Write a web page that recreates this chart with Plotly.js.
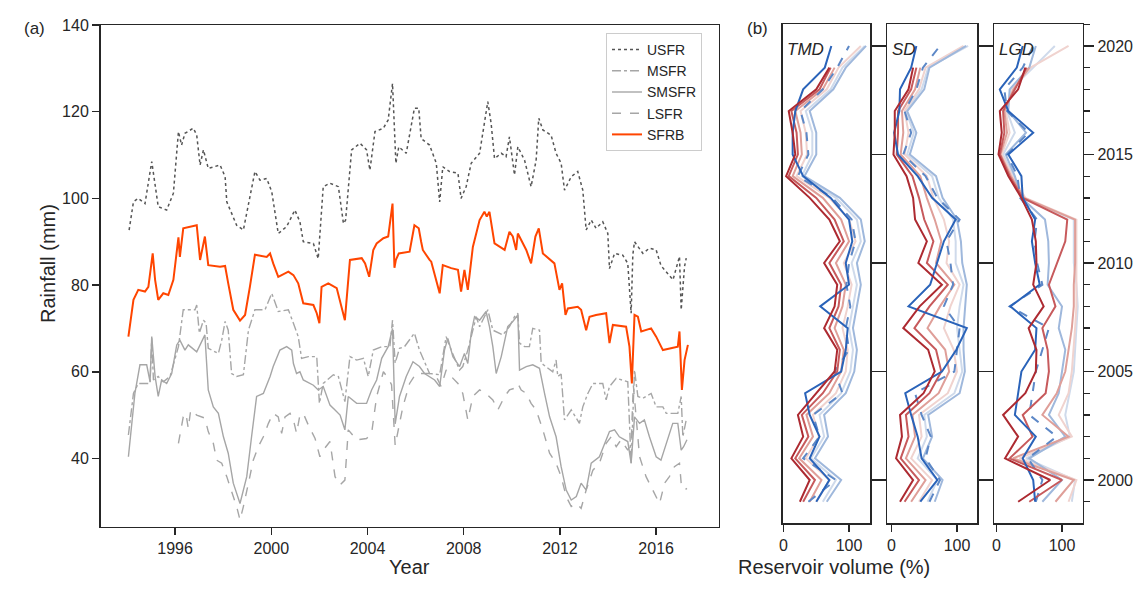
<!DOCTYPE html>
<html>
<head>
<meta charset="utf-8">
<script src="https://cdn.plot.ly/plotly-3.0.1.min.js"></script>
<style>html,body{margin:0;padding:0;background:#fff;}#chart{width:1147px;height:592px;}</style>
</head>
<body>
<div id="chart"></div>
<script>
// ---------- Panel (a): rainfall series ----------
const usfrX = [1994.09,1994.27,1994.47,1994.75,1995.03,1995.17,1995.30,1995.65,1995.93,1996.14,1996.27,1996.41,1996.76,1996.90,1997.04,1997.18,1997.38,1997.87,1998.08,1998.15,1998.56,1998.84,1999.32,1999.53,1999.81,2000.02,2000.29,2000.64,2000.98,2001.19,2001.33,2001.75,2001.95,2002.16,2002.44,2002.79,2003.00,2003.09,2003.34,2003.69,2003.96,2004.10,2004.31,2004.66,2004.86,2005.04,2005.18,2005.30,2005.61,2005.95,2006.13,2006.23,2006.58,2006.86,2007.00,2007.13,2007.41,2007.76,2007.89,2008.10,2008.31,2008.66,2008.86,2009.00,2009.14,2009.28,2009.56,2009.76,2009.90,2010.11,2010.25,2010.53,2010.80,2011.01,2011.12,2011.29,2011.63,2011.84,2012.05,2012.19,2012.47,2012.74,2012.95,2013.09,2013.30,2013.50,2013.78,2013.99,2014.06,2014.27,2014.61,2014.82,2014.96,2015.03,2015.10,2015.24,2015.45,2015.72,2016.00,2016.20,2016.70,2016.97,2017.04,2017.18,2017.25];
const usfrY = [92.7,99.2,100.0,98.8,108.5,103.5,98.1,97.3,101.2,115.4,112.3,115.0,116.2,114.6,107.7,111.2,106.9,107.7,105.0,99.2,93.8,92.7,106.2,104.2,104.6,101.5,91.9,93.5,97.3,94.6,90.0,89.6,86.1,102.7,103.5,102.7,94.2,95.0,111.2,112.7,111.2,106.5,115.4,116.2,118.1,126.5,108.1,111.9,110.4,120.8,120.8,113.8,112.3,108.1,99.2,107.3,106.2,105.8,100.0,102.7,108.1,110.4,118.1,122.3,117.3,109.2,110.4,109.6,114.2,105.4,111.9,108.8,102.7,108.8,118.5,115.8,114.6,110.4,108.1,101.9,105.0,106.2,101.9,92.7,95.0,93.1,94.6,91.9,83.8,87.3,86.9,85.0,73.5,87.0,90.0,88.8,87.3,88.5,88.1,84.5,81.2,86.6,74.3,84.3,86.2];

const msfrX = [1994.06,1994.27,1994.47,1994.75,1994.96,1995.03,1995.10,1995.30,1995.51,1995.79,1995.93,1996.14,1996.34,1996.83,1996.90,1997.01,1997.18,1997.29,1997.38,1997.80,1997.94,1998.08,1998.21,1998.35,1998.56,1998.84,1999.05,1999.32,1999.74,2000.02,2000.29,2000.71,2000.92,2001.12,2001.26,2001.54,2001.89,2002.00,2002.16,2002.58,2002.79,2003.06,2003.27,2003.55,2003.83,2004.03,2004.24,2004.59,2004.93,2005.04,2005.15,2005.33,2005.54,2005.95,2006.16,2006.58,2007.00,2007.27,2007.48,2007.83,2007.96,2008.17,2008.38,2008.52,2008.66,2009.00,2009.21,2009.63,2009.90,2010.11,2010.25,2010.32,2010.53,2010.73,2010.87,2011.15,2011.22,2011.70,2011.84,2011.91,2012.05,2012.19,2012.47,2012.81,2012.95,2013.16,2013.37,2013.78,2013.92,2014.06,2014.34,2014.82,2014.96,2015.10,2015.24,2015.45,2015.79,2016.00,2016.28,2016.42,2016.90,2017.04,2017.11,2017.25];
const msfrY = [45.4,55.0,57.3,57.3,57.3,67.7,58.1,58.9,57.7,58.9,61.6,65.8,74.3,74.3,75.4,68.9,71.9,71.2,65.4,64.2,67.3,71.6,69.6,59.6,58.9,59.3,69.6,74.3,74.3,78.1,73.9,74.3,71.2,68.1,63.1,63.5,63.5,52.7,57.3,59.3,58.9,53.1,63.5,62.7,63.1,58.9,65.0,65.8,65.8,71.9,62.0,65.4,65.8,68.9,65.0,59.6,59.3,68.1,65.0,60.4,61.2,65.0,69.6,72.7,70.4,74.3,69.6,68.5,70.4,72.7,73.5,66.6,65.8,65.8,70.0,69.6,62.0,60.0,62.7,58.9,59.5,48.9,51.2,48.1,51.9,55.0,57.3,57.3,53.5,56.6,58.5,57.7,38.9,60.4,54.3,53.9,55.0,51.9,51.9,50.4,50.4,54.3,45.0,48.9];

const smsfrX = [1994.06,1994.33,1994.54,1994.82,1994.96,1995.03,1995.17,1995.30,1995.44,1995.65,1995.86,1996.07,1996.20,1996.41,1996.55,1996.90,1997.04,1997.24,1997.38,1997.59,1997.80,1998.01,1998.21,1998.42,1998.70,1998.98,1999.18,1999.39,1999.67,1999.95,2000.08,2000.36,2000.64,2000.85,2000.92,2001.05,2001.19,2001.33,2001.75,2001.95,2002.16,2002.44,2002.65,2002.86,2003.06,2003.20,2003.55,2003.96,2004.17,2004.38,2004.59,2004.86,2005.04,2005.15,2005.33,2005.61,2005.89,2006.16,2006.37,2006.58,2006.79,2007.00,2007.20,2007.34,2007.55,2007.83,2008.03,2008.17,2008.31,2008.45,2008.66,2008.93,2009.07,2009.21,2009.35,2009.56,2009.83,2010.04,2010.25,2010.32,2010.60,2010.87,2011.15,2011.36,2011.57,2011.84,2012.05,2012.26,2012.47,2012.68,2012.88,2013.09,2013.30,2013.64,2013.92,2014.06,2014.27,2014.47,2014.82,2014.96,2015.10,2015.31,2015.51,2015.72,2016.00,2016.20,2016.69,2016.90,2017.04,2017.14,2017.28];
const smsfrY = [40.4,55.0,61.6,61.6,57.7,68.1,58.9,54.3,58.1,57.3,59.6,66.2,67.3,65.0,66.2,64.6,66.2,68.5,55.8,51.9,50.4,45.0,41.2,34.3,29.6,35.8,45.0,54.3,55.0,58.9,61.2,65.0,65.8,65.0,61.9,59.6,60.0,58.1,56.9,55.8,56.6,52.3,51.2,50.0,46.6,54.3,52.7,52.7,55.8,58.1,63.1,65.8,70.0,48.0,54.3,58.9,62.3,61.2,59.6,58.9,58.1,56.6,65.0,67.7,63.5,61.2,64.2,61.9,68.9,72.7,71.9,73.9,70.4,65.8,59.6,63.5,70.4,71.6,73.1,60.4,61.2,61.6,60.8,55.0,49.6,45.0,38.1,32.7,30.4,31.2,34.3,32.7,38.9,40.4,44.3,46.2,46.6,45.0,43.9,38.9,49.6,48.1,48.9,45.0,40.4,39.6,48.1,48.1,41.9,42.7,44.3];

const lsfrX = [1996.14,1996.34,1996.45,1996.55,1996.65,1996.90,1997.24,1997.38,1997.59,1997.73,1997.94,1998.15,1998.42,1998.56,1998.70,1998.84,1999.05,1999.25,1999.46,1999.67,1999.88,2000.08,2000.29,2000.43,2000.57,2000.78,2000.92,2001.05,2001.19,2001.33,2001.54,2001.82,2002.02,2002.16,2002.44,2002.65,2002.86,2003.06,2003.20,2003.55,2003.96,2004.17,2004.38,2004.66,2004.86,2005.00,2005.15,2005.30,2005.47,2005.75,2006.02,2006.30,2006.58,2006.86,2007.06,2007.27,2007.48,2007.76,2007.96,2008.17,2008.38,2008.66,2008.93,2009.21,2009.42,2009.70,2009.90,2010.11,2010.25,2010.39,2010.60,2010.80,2011.01,2011.29,2011.57,2011.84,2012.05,2012.26,2012.47,2012.68,2012.88,2013.09,2013.37,2013.64,2013.92,2014.13,2014.34,2014.54,2014.82,2014.96,2015.05,2015.31,2015.58,2015.86,2016.14,2016.35,2016.55,2016.76,2016.97,2017.04,2017.18,2017.28];
const lsfrY = [43.5,49.6,50.4,46.9,51.2,50.0,49.3,46.2,43.5,39.6,38.9,35.8,31.2,28.9,25.8,28.9,34.3,39.6,42.7,45.0,48.1,50.4,49.6,45.8,49.6,50.4,48.9,45.8,50.0,50.4,47.7,44.6,40.4,41.9,43.9,35.8,33.9,35.0,46.6,44.3,44.6,45.8,54.3,60.0,58.5,57.0,43.0,47.0,51.9,57.3,59.6,59.6,59.6,58.9,56.6,60.4,58.9,57.3,55.0,48.9,54.3,55.8,55.0,53.5,51.2,54.3,55.8,56.2,57.3,55.8,55.0,52.7,51.2,46.6,41.2,38.9,35.8,31.2,28.9,29.6,28.5,32.7,37.3,38.9,43.5,45.0,42.7,44.3,41.9,43.5,57.0,40.4,35.8,32.7,29.6,34.3,35.8,38.1,38.9,34.3,32.7,33.1];

const sfrbX = [1994.06,1994.27,1994.47,1994.75,1994.89,1995.07,1995.17,1995.30,1995.51,1995.72,1995.93,1996.14,1996.20,1996.34,1996.90,1997.04,1997.24,1997.38,1997.87,1998.08,1998.21,1998.42,1998.70,1998.91,1999.11,1999.32,1999.81,1999.95,2000.08,2000.29,2000.71,2000.92,2001.12,2001.33,2001.75,2001.89,2002.00,2002.09,2002.37,2002.72,2003.06,2003.27,2003.76,2003.90,2004.07,2004.24,2004.38,2004.66,2004.86,2005.04,2005.12,2005.18,2005.30,2005.75,2005.95,2006.13,2006.23,2006.30,2006.58,2006.65,2007.00,2007.13,2007.48,2007.76,2007.89,2008.03,2008.17,2008.31,2008.38,2008.66,2008.86,2008.96,2009.07,2009.28,2009.70,2009.90,2010.04,2010.18,2010.25,2010.60,2010.80,2010.98,2011.12,2011.29,2011.50,2011.77,2011.98,2012.09,2012.23,2012.33,2012.74,2012.88,2013.09,2013.23,2013.50,2013.92,2014.06,2014.20,2014.75,2014.89,2014.99,2015.10,2015.24,2015.38,2015.79,2016.00,2016.28,2016.90,2016.97,2017.07,2017.18,2017.32];
const sfrbY = [68.1,76.6,78.9,78.5,79.6,87.3,81.2,76.6,78.1,77.7,81.2,91.0,86.5,93.1,93.8,85.8,91.2,84.6,84.2,84.4,80.4,74.3,71.8,73.1,79.6,87.0,86.5,87.3,85.0,81.9,83.1,82.3,80.4,75.8,75.4,73.5,71.2,79.6,80.4,79.3,71.9,85.8,86.2,85.0,81.9,88.1,89.6,90.8,91.2,98.8,84.0,85.8,87.3,87.7,93.8,93.1,90.0,88.1,85.8,85.4,78.1,84.6,83.9,83.5,78.5,83.5,78.9,85.8,88.8,95.0,96.9,95.8,96.9,89.6,88.1,92.3,91.2,88.1,91.9,88.1,85.0,91.2,93.1,87.3,86.2,85.0,78.9,80.4,73.1,74.6,75.0,74.3,69.6,72.7,73.1,73.5,66.6,70.8,70.4,65.8,57.3,73.1,72.7,69.3,70.0,68.1,65.0,65.8,69.3,55.8,62.7,66.2];

const seriesNames = ['USFR','MSFR','SMSFR','LSFR','SFRB'];
const xTickVals = [1996,2000,2004,2008,2012,2016];
const yTickVals = [40,60,80,100,120,140];

// ---------- Panel (b): reservoir volume (%) per year ----------
const resYears = [1999,2000,2001,2002,2003,2004,2005,2006,2007,2008,2009,2010,2011,2012,2013,2014,2015,2016,2017,2018,2019,2020];
const panelNames = ['TMD','SD','LGD'];
const resTicks = [0,100];
const yearTicks = [2000,2005,2010,2015,2020];

// TMD (lines ordered blue -> red)
const tmd0 = [50,70,40,55,40,33,88,95,98,56,100,95,105,100,72,30,14,14,18,30,63,73];
const tmd1 = [38,80,30,55,45,90,78,100,95,102,96,100,110,104,75,22,38,35,26,60,82,100];
const tmd2 = [66,88,48,68,62,95,108,112,106,112,118,112,124,118,86,32,50,50,40,76,95,126];
const tmd3 = [60,80,42,62,55,88,102,106,100,106,112,104,118,112,80,28,44,44,34,72,90,124];
const tmd4 = [50,70,34,54,45,80,95,98,90,98,104,92,110,100,70,20,36,34,26,66,84,118];
const tmd5 = [40,58,24,45,35,70,88,92,78,90,95,80,100,88,60,14,28,26,18,60,78,null];
const tmd6 = [30,48,18,38,28,60,82,86,70,84,88,70,92,78,50,8,22,20,12,55,72,null];
const tmd7 = [25,40,12,30,22,50,78,82,62,78,82,62,86,70,40,4,18,14,8,50,70,null];

// SD
const sd0 = [44,70,46,40,30,21,77,99,115,26,59,70,80,98,62,40,10,4,12,13,30,38];
const sd1 = [58,74,52,60,46,36,96,100,104,80,94,90,84,104,70,52,18,30,20,38,48,74];
const sd2 = [66,78,48,62,56,104,112,110,110,112,115,108,106,100,78,68,28,38,24,50,58,114];
const sd3 = [55,70,40,54,50,96,108,104,100,104,110,98,98,94,72,62,24,34,22,46,56,117];
const sd4 = [42,62,30,46,42,86,100,95,80,90,104,84,88,80,64,54,20,26,20,42,52,110];
const sd5 = [30,52,22,36,32,72,88,82,55,74,96,68,76,66,54,44,14,18,16,36,44,null];
const sd6 = [20,42,14,26,22,58,76,68,35,58,86,54,64,50,42,32,8,10,10,30,38,null];
const sd7 = [13,33,7,16,13,49,66,56,18,43,77,41,54,36,33,23,3,5,5,26,33,null];

// LGD
const lgd0 = [59,56,40,60,28,33,38,59,61,21,66,59,54,59,40,38,18,56,18,5,31,40];
const lgd1 = [60,70,48,92,50,55,60,70,80,20,70,62,58,62,36,32,16,49,16,12,40,56];
const lgd2 = [70,100,50,105,80,95,100,105,95,100,78,80,79,74,38,28,14,45,18,20,50,60];
const lgd3 = [115,120,45,112,105,112,118,120,122,124,122,118,118,118,40,26,10,28,16,22,56,89];
const lgd4 = [110,122,35,115,95,110,115,118,120,122,122,122,122,122,44,24,8,20,14,24,52,110];
const lgd5 = [90,118,25,110,70,92,105,110,115,118,118,120,120,120,42,22,6,16,12,26,50,null];
const lgd6 = [50,100,20,55,40,75,80,78,70,90,80,92,105,108,40,20,5,12,10,28,46,null];
const lgd7 = [33,82,13,33,10,44,60,61,49,72,56,61,60,54,38,18,3,8,5,33,44,null];

const lineColors = ['#2a63b9','#5d88c7','#9fb8dc','#cfdaeb','#f0d3cf','#df9f99','#c75a5c','#ad2a31'];
const lineDash = ['solid','dash','solid','solid','solid','solid','solid','solid'];
const drawOrder = [3,4,2,5,1,6,0,7];

// ---------- build traces ----------
const gray = '#a6a6a6';
const traces = [
  {x: usfrX, y: usfrY, name: seriesNames[0], type:'scatter', mode:'lines', line:{color:'#555555', width:1.5, dash:'dot'}},
  {x: msfrX, y: msfrY, name: seriesNames[1], type:'scatter', mode:'lines', line:{color:gray, width:1.4, dash:'dashdot'}},
  {x: smsfrX, y: smsfrY, name: seriesNames[2], type:'scatter', mode:'lines', line:{color:gray, width:1.4}},
  {x: lsfrX, y: lsfrY, name: seriesNames[3], type:'scatter', mode:'lines', line:{color:gray, width:1.4, dash:'dash'}},
  {x: sfrbX, y: sfrbY, name: seriesNames[4], type:'scatter', mode:'lines', line:{color:'#ff4500', width:2}}
];

const panels = [
  {lines:[tmd0,tmd1,tmd2,tmd3,tmd4,tmd5,tmd6,tmd7], xa:'x2', ya:'y2'},
  {lines:[sd0,sd1,sd2,sd3,sd4,sd5,sd6,sd7], xa:'x3', ya:'y3'},
  {lines:[lgd0,lgd1,lgd2,lgd3,lgd4,lgd5,lgd6,lgd7], xa:'x4', ya:'y4'}
];
panels.forEach((p, pi) => {
  drawOrder.forEach(k => {
    const yaxisRef = (pi === 2 && k === 7) ? 'y5' : p.ya;
    traces.push({
      x: p.lines[k], y: resYears, type:'scatter', mode:'lines',
      xaxis: p.xa, yaxis: yaxisRef, showlegend:false, hoverinfo:'skip',
      line:{color: lineColors[k], width:2, dash: lineDash[k]}
    });
  });
});

// ---------- layout ----------
const W = 1147, H = 592;
const px = v => v / W;
const py = v => 1 - v / H;
const axisLine = '#262626';
const tickFont = {family:'Liberation Sans, Arial, sans-serif', size:16, color:'#262626'};
const resYRange = [1998.02, 2021.01];
const baseResX = {
  tickvals: resTicks, ticks:'outside', ticklen:7, tickwidth:1.5, tickcolor:axisLine,
  showline:true, linecolor:axisLine, linewidth:1.5, mirror:true, showgrid:false, zeroline:false,
  tickfont: tickFont
};

const layout = {
  width: W, height: H,
  margin:{l:0, r:0, t:0, b:0},
  paper_bgcolor:'#ffffff', plot_bgcolor:'#ffffff',
  font:{family:'Liberation Sans, Arial, sans-serif', color:'#262626'},
  showlegend:true,
  legend:{x: px(606), y: py(33), xanchor:'left', yanchor:'top', bgcolor:'#ffffff',
          bordercolor:'#cccccc', borderwidth:1, font:{size:14, color:'#262626'}, itemwidth:30, tracegroupgap:0},
  xaxis:{domain:[px(100.5), px(718.7)], range:[1992.9, 2018.6], tickvals:xTickVals, ticks:'outside', ticklen:7,
         tickwidth:1.5, tickcolor:axisLine, showline:true, linecolor:axisLine, linewidth:1.5, mirror:true,
         showgrid:false, zeroline:false, tickfont:tickFont, anchor:'y'},
  yaxis:{domain:[py(526.5), py(25)], range:[24.3, 140], tickvals:yTickVals, ticks:'outside', ticklen:7,
         tickwidth:1.5, tickcolor:axisLine, showline:true, linecolor:axisLine, linewidth:1.5, mirror:true,
         showgrid:false, zeroline:false, tickfont:tickFont, anchor:'x'},
  xaxis2: Object.assign({}, baseResX, {domain:[px(782.7), px(870)], range:[-1.2, 132], anchor:'y2'}),
  xaxis3: Object.assign({}, baseResX, {domain:[px(887.3), px(977.3)], range:[-6.4, 131], anchor:'y3'}),
  xaxis4: Object.assign({}, baseResX, {domain:[px(994.3), px(1082.7)], range:[-3.4, 131.6], anchor:'y4'}),
  yaxis2:{domain:[py(523), py(24)], range:resYRange, anchor:'x2', side:'right', tickvals:yearTicks,
          ticks:'outside', ticklen:10, tickwidth:1.5, tickcolor:axisLine, showticklabels:false,
          showline:true, linecolor:axisLine, linewidth:1.5, mirror:true, showgrid:false, zeroline:false},
  yaxis3:{domain:[py(523), py(24)], range:resYRange, anchor:'x3', side:'right', tickvals:yearTicks,
          ticks:'outside', ticklen:7, tickwidth:1.5, tickcolor:axisLine, showticklabels:false,
          showline:true, linecolor:axisLine, linewidth:1.5, mirror:'ticks', showgrid:false, zeroline:false},
  yaxis4:{domain:[py(523), py(24)], range:resYRange, anchor:'x4', side:'right', tickvals:yearTicks,
          ticks:'outside', ticklen:10, tickwidth:1.5, tickcolor:axisLine, showticklabels:true, tickfont:tickFont,
          minor:{dtick:1, tick0:2000, ticks:'outside', ticklen:6, tickwidth:1.3, tickcolor:axisLine},
          showline:true, linecolor:axisLine, linewidth:1.5, mirror:true, showgrid:false, zeroline:false},
  yaxis5:{range:resYRange, anchor:'x4', overlaying:'y4', side:'left', tickvals:yearTicks,
          ticks:'outside', ticklen:7, tickwidth:1.5, tickcolor:axisLine, showticklabels:false,
          showline:false, showgrid:false, zeroline:false},
  annotations:[
    {text:'(a)', x:px(22), y:py(17), xref:'paper', yref:'paper', showarrow:false, font:{size:17}},
    {text:'(b)', x:px(770), y:py(17), xref:'paper', yref:'paper', showarrow:false, font:{size:17}},
    {text:'<i>'+panelNames[0]+'</i>', x:px(785), y:py(38), xref:'paper', yref:'paper', xanchor:'left', showarrow:false, font:{size:17}},
    {text:'<i>'+panelNames[1]+'</i>', x:px(890), y:py(38), xref:'paper', yref:'paper', xanchor:'left', showarrow:false, font:{size:17}},
    {text:'<i>'+panelNames[2]+'</i>', x:px(997), y:py(38), xref:'paper', yref:'paper', xanchor:'left', showarrow:false, font:{size:17}},
    {text:'Year', x:px(410), y:py(580), xref:'paper', yref:'paper', showarrow:false, font:{size:20}},
    {text:'Reservoir volume (%)', x:px(932), y:py(580), xref:'paper', yref:'paper', showarrow:false, font:{size:20}},
    {text:'Rainfall (mm)', x:px(35), y:py(264), xref:'paper', yref:'paper', showarrow:false, textangle:-90, font:{size:20}}
  ]
};

Plotly.newPlot('chart', traces, layout, {displayModeBar:false, staticPlot:true});
</script>
</body>
</html>
